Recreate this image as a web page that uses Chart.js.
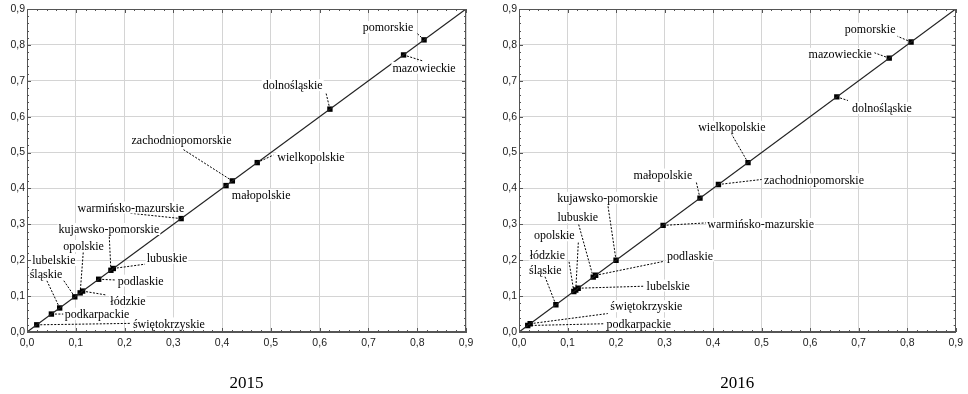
<!DOCTYPE html>
<html>
<head>
<meta charset="utf-8">
<script src="https://cdn.jsdelivr.net/npm/chart.js@4"></script>
<style>
  body { margin: 0; background: #fff; }
  #wrap { position: relative; width: 968px; height: 394px; }
  .box { position: absolute; top: 0; height: 394px; }
</style>
</head>
<body>
<div id="wrap">
  <div class="box" style="left:0;width:480px"><canvas id="chart2015"></canvas></div>
  <div class="box" style="left:492px;width:476px"><canvas id="chart2016"></canvas></div>
</div>
<script>
// regions (same order for both years)
const regions = ["świętokrzyskie", "podkarpackie", "śląskie", "lubelskie", "opolskie", "łódzkie",
  "podlaskie", "kujawsko-pomorskie", "lubuskie", "warmińsko-mazurskie", "małopolskie",
  "zachodniopomorskie", "wielkopolskie", "dolnośląskie", "mazowieckie", "pomorskie"];

const values2015 = [0.020, 0.050, 0.067, 0.098, 0.109, 0.114, 0.147, 0.172, 0.177, 0.316, 0.408,
  0.421, 0.472, 0.621, 0.772, 0.814];
const values2016 = [0.023, 0.018, 0.076, 0.122, 0.117, 0.113, 0.158, 0.200, 0.153, 0.297, 0.373,
  0.411, 0.472, 0.655, 0.763, 0.808];

// axis range and ticks
const axisMin = 0;
const axisMax = 0.9;
const tickStep = 0.1;
const years = ["2015", "2016"];

// label placement: [text x, text y, leader end x, leader end y] in axis units
const labelPos2015 = [
  [0.291, 0.024, 0.211, 0.024], [0.1435, 0.051, 0.0744, 0.050], [0.039, 0.161, 0.040, 0.145],
  [0.055, 0.2006, 0.0744, 0.145], [0.116, 0.2396, 0.1154, 0.2237], [0.207, 0.087, 0.163, 0.103],
  [0.233, 0.143, 0.180, 0.145], [0.168, 0.287, 0.1687, 0.2655], [0.287, 0.207, 0.242, 0.189],
  [0.213, 0.347, 0.211, 0.331], [0.48, 0.382, null, null], [0.3167, 0.535, 0.319, 0.5097],
  [0.582, 0.488, 0.505, 0.493], [0.5447, 0.688, 0.613, 0.666], [0.814, 0.736, 0.812, 0.755],
  [0.740, 0.8496, 0.799, 0.833]
];
const labelPos2016 = [
  [0.2624, 0.072, 0.183, 0.0515], [0.247, 0.023, 0.176, 0.023], [0.0543, 0.174, 0.0533, 0.155],
  [0.3075, 0.1295, 0.258, 0.1276], [0.0728, 0.2696, 0.1224, 0.253], [0.0584, 0.216, 0.103, 0.197],
  [0.3526, 0.213, 0.299, 0.197], [0.1825, 0.374, 0.183, 0.355], [0.121, 0.32, 0.123, 0.2994],
  [0.498, 0.301, 0.385, 0.304], [0.2966, 0.4387, 0.3655, 0.417], [0.608, 0.425, 0.500, 0.425],
  [0.4387, 0.5716, 0.4387, 0.55], [0.748, 0.6245, 0.678, 0.645], [0.662, 0.775, 0.7325, 0.778],
  [0.7237, 0.8454, 0.780, 0.824]
];

const fmt = v => v.toFixed(1).replace(".", ",");

// frame, inner ticks, leader lines and region labels
const annotate = {
  id: "annotate",
  afterDatasetsDraw(chart, args, opts) {
    const ctx = chart.ctx;
    const a = chart.chartArea;
    const xs = chart.scales.x, ys = chart.scales.y;
    ctx.save();

    // inner tick marks on all four sides
    ctx.strokeStyle = "#555";
    ctx.lineWidth = 1;
    ctx.beginPath();
    for (let i = 0; i <= 45; i++) {
      const v = i * 0.02;
      const len = i % 5 === 0 ? 4 : 2;
      const px = Math.round(xs.getPixelForValue(v)) + 0.5;
      const py = Math.round(ys.getPixelForValue(v)) + 0.5;
      ctx.moveTo(px, a.top); ctx.lineTo(px, a.top + len);
      ctx.moveTo(px, a.bottom); ctx.lineTo(px, a.bottom - len);
      ctx.moveTo(a.left, py); ctx.lineTo(a.left + len, py);
      ctx.moveTo(a.right, py); ctx.lineTo(a.right - len, py);
    }
    ctx.stroke();
    ctx.strokeRect(Math.round(a.left) + 0.5, Math.round(a.top) + 0.5,
      Math.round(a.right - a.left) - 1, Math.round(a.bottom - a.top) - 1);

    // leaders
    ctx.strokeStyle = "#000";
    ctx.setLineDash([2, 1.5]);
    opts.values.forEach((v, i) => {
      const p = opts.pos[i];
      if (p[2] === null) return;
      ctx.beginPath();
      ctx.moveTo(xs.getPixelForValue(v), ys.getPixelForValue(v));
      ctx.lineTo(xs.getPixelForValue(p[2]), ys.getPixelForValue(p[3]));
      ctx.stroke();
    });
    ctx.setLineDash([]);

    // labels
    ctx.font = "12px 'Liberation Serif', 'Times New Roman', serif";
    ctx.textAlign = "center";
    ctx.textBaseline = "middle";
    regions.forEach((name, i) => {
      const p = opts.pos[i];
      const tx = xs.getPixelForValue(p[0]);
      const ty = ys.getPixelForValue(p[1]);
      const w = ctx.measureText(name).width;
      ctx.fillStyle = "#fff";
      ctx.fillRect(tx - w / 2 - 1, ty - 6, w + 2, 12);
      ctx.fillStyle = "#000";
      ctx.fillText(name, tx, ty + 1);
    });
    ctx.restore();
  }
};

function makeChart(id, year, values, pos, rightPad) {
  const points = values.map(v => ({ x: v, y: v }));
  const ctx = document.getElementById(id).getContext("2d");
  return new Chart(ctx, {
    type: "scatter",
    data: {
      datasets: [
        {
          type: "line",
          data: [{ x: axisMin, y: axisMin }, { x: axisMax, y: axisMax }],
          borderColor: "#222",
          borderWidth: 1.2,
          pointRadius: 0,
        },
        {
          data: points,
          pointStyle: "rect",
          pointRadius: 3.8,
          backgroundColor: "#000",
          borderColor: "#000",
          borderWidth: 0,
        },
      ],
    },
    options: {
      responsive: true,
      maintainAspectRatio: false,
      animation: false,
      layout: { padding: { top: 9, right: rightPad, bottom: 0, left: 0 } },
      plugins: {
        legend: { display: false },
        tooltip: { enabled: false },
        title: {
          display: true,
          fullSize: false,
          position: "bottom",
          text: year,
          color: "#000",
          font: { family: "'Liberation Serif', serif", size: 17, weight: "normal", lineHeight: 1 },
          padding: { top: 23, bottom: 2 },
        },
        annotate: { values: values, pos: pos },
      },
      scales: {
        x: {
          type: "linear",
          min: axisMin,
          max: axisMax,
          ticks: {
            stepSize: tickStep,
            callback: fmt,
            color: "#222",
            padding: 5,
            font: { family: "'Liberation Sans', Arial, sans-serif", size: 10.5 },
          },
          grid: { color: "#d4d4d4", drawTicks: false },
          border: { color: "#555" },
          afterFit: s => { s.height = 20; },
        },
        y: {
          type: "linear",
          min: axisMin,
          max: axisMax,
          ticks: {
            stepSize: tickStep,
            callback: fmt,
            color: "#222",
            padding: 2,
            font: { family: "'Liberation Sans', Arial, sans-serif", size: 10.5 },
          },
          grid: { color: "#d4d4d4", drawTicks: false },
          border: { color: "#555" },
          afterFit: s => { s.width = 27; },
        },
      },
    },
    plugins: [annotate],
  });
}

makeChart("chart2015", years[0], values2015, labelPos2015, 14);
makeChart("chart2016", years[1], values2016, labelPos2016, 10);
</script>
</body>
</html>
